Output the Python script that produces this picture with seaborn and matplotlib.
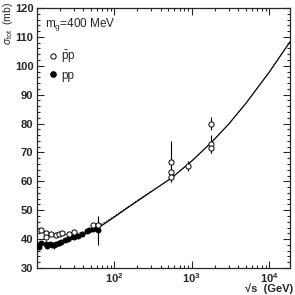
import numpy as np
import pandas as pd
import matplotlib
matplotlib.use("Agg")
import matplotlib.pyplot as plt
import seaborn as sns
from matplotlib.ticker import MultipleLocator, LogLocator, NullFormatter
from matplotlib.lines import Line2D

# pbar-p data (open circles): sqrt(s) [GeV], sigma_tot [mb], error [mb]
ppbar_sqrts = [11.5, 13.3, 13.3, 15.5, 17.9, 19.4, 21.4, 26.1, 30.4, 52.8, 62.7,
               546, 546, 546, 900, 1800, 1800, 1800]
ppbar_sigma = [43.2, 42.2, 40.6, 41.8, 41.4, 41.6, 42.0, 41.8, 42.6, 44.9, 45.0,
               66.8, 63.3, 61.6, 65.3, 80.0, 72.8, 71.7]
ppbar_err = [0.6, 0.5, 0.5, 0.5, 0.4, 0.4, 0.4, 0.4, 0.5, 0.7, 0.7,
             7.2, 1.5, 1.0, 1.6, 2.2, 3.1, 2.0]

# pp data (filled circles)
pp_sqrts = [10.4, 10.9, 11.5, 13.3, 13.8, 15.0, 16.0, 17.0, 18.0, 19.4, 20.8,
            23.0, 25.3, 27.4, 30.5, 34.0, 38.0, 44.6, 47.0, 52.8, 55.0, 62.7]
pp_sigma = [38.0, 37.3, 38.6, 38.3, 37.6, 38.2, 38.0, 37.8, 38.3, 38.6, 39.0,
            39.6, 40.2, 40.6, 40.8, 41.2, 41.6, 42.8, 43.2, 43.4, 44.0, 43.0]
pp_err = [0.5, 0.5, 0.5, 1.2, 0.5, 0.5, 0.5, 1.2, 0.5, 0.4, 0.4,
          0.3, 0.3, 0.3, 0.3, 0.3, 0.3, 0.5, 0.5, 0.5, 0.5, 5.0]

# model curves
pp_curve_sqrts = [10, 12, 15, 20, 25, 30, 40, 50, 63, 80, 100, 150, 200, 300,
                  546, 1000, 1800, 3000, 5000, 10000, 20000]
pp_curve_sigma = [38.4, 38.2, 38.3, 38.8, 39.5, 40.2, 41.5, 42.7, 44.0, 45.8, 47.6,
                  50.9, 53.2, 56.4, 61.1, 67.0, 73.5, 79.8, 87.0, 97.8, 109.6]
ppbar_curve_sqrts = [10, 12, 15, 20, 25, 30, 40, 50, 63, 80, 100, 150, 200, 300]
ppbar_curve_sigma = [43.6, 42.8, 42.0, 41.6, 41.5, 41.7, 42.4, 43.3, 44.6, 46.2,
                     47.9, 51.1, 53.4, 56.5]

pp_df = pd.DataFrame({"sqrts": pp_sqrts, "sigma": pp_sigma, "err": pp_err})
ppbar_df = pd.DataFrame({"sqrts": ppbar_sqrts, "sigma": ppbar_sigma, "err": ppbar_err})
curve_pp = pd.DataFrame({"sqrts": pp_curve_sqrts, "sigma": pp_curve_sigma})
curve_ppbar = pd.DataFrame({"sqrts": ppbar_curve_sqrts, "sigma": ppbar_curve_sigma})

sns.set_style("ticks")
plt.rcParams['font.family'] = ['Liberation Sans', 'DejaVu Sans']
plt.rcParams['mathtext.fontset'] = 'custom'
plt.rcParams['mathtext.rm'] = 'Liberation Sans'
plt.rcParams['mathtext.it'] = 'Liberation Sans:italic'
plt.rcParams['mathtext.bf'] = 'Liberation Sans:bold'

fig = plt.figure(figsize=(2.95, 2.95), dpi=100)
ax = fig.add_axes([0.125, 0.0915, 0.858, 0.8815])

sns.lineplot(data=curve_ppbar, x="sqrts", y="sigma", ax=ax, color="black",
             lw=0.6, linestyle=(0, (2, 1.5)), sort=False)
sns.lineplot(data=curve_pp, x="sqrts", y="sigma", ax=ax, color="black",
             lw=0.9, sort=False)

ax.errorbar(pp_df["sqrts"], pp_df["sigma"], yerr=pp_df["err"], fmt="none",
            ecolor="black", elinewidth=0.8, capsize=0)
ax.errorbar(ppbar_df["sqrts"], ppbar_df["sigma"], yerr=ppbar_df["err"], fmt="none",
            ecolor="black", elinewidth=0.8, capsize=0)
sns.scatterplot(data=pp_df, x="sqrts", y="sigma", ax=ax, marker="o", s=14,
                color="black", edgecolor="black", linewidth=0.5, zorder=3)
sns.scatterplot(data=ppbar_df, x="sqrts", y="sigma", ax=ax, marker="o", s=14,
                facecolor="white", edgecolor="black", linewidth=0.7, zorder=4)

ax.set_xscale("log")
ax.set_xlim(10.1, 1.85e4)
ax.set_ylim(30, 120)
ax.yaxis.set_major_locator(MultipleLocator(10))
ax.yaxis.set_minor_locator(MultipleLocator(2))
ax.xaxis.set_minor_locator(LogLocator(base=10, subs=np.arange(2, 10)))
ax.xaxis.set_minor_formatter(NullFormatter())
ax.tick_params(which="both", direction="in", top=True, right=True, width=0.8,
               labelsize=8)
ax.tick_params(axis="y", pad=2.5)
ax.tick_params(axis="x", pad=2)
ax.tick_params(which="major", length=5)
ax.tick_params(which="minor", length=2.5)
for lab in ax.get_yticklabels() + ax.get_xticklabels():
    lab.set_fontweight("bold")
for sp in ax.spines.values():
    sp.set_linewidth(0.9)
ax.set_xlabel("")
ax.set_ylabel("")

fig.text(0.993, 0.02, "√s  (GeV)", fontsize=8, ha="right", va="center",
         fontweight="bold")
fig.text(0.026, 0.993, r"$\sigma_{\rm tot}$  (mb)", fontsize=7.5, ha="center",
         va="top", rotation=90)

ax.text(0.032, 0.938, r"m$_{\rm g}$=400 MeV", transform=ax.transAxes,
        fontsize=8.5, va="center", ha="left")

handles = [Line2D([], [], marker="o", ls="none", mfc="white", mec="black", ms=3.8, mew=0.7),
           Line2D([], [], marker="o", ls="none", mfc="black", mec="black", ms=3.8)]
ax.legend(handles, [r"$\bar{\rm p}$p", "pp"], loc="upper left", frameon=False,
          bbox_to_anchor=(0.03, 0.86), fontsize=8.5, handlelength=0.6,
          handletextpad=0.4, labelspacing=0.35, borderaxespad=0)

fig.savefig("out.png", dpi=100)
